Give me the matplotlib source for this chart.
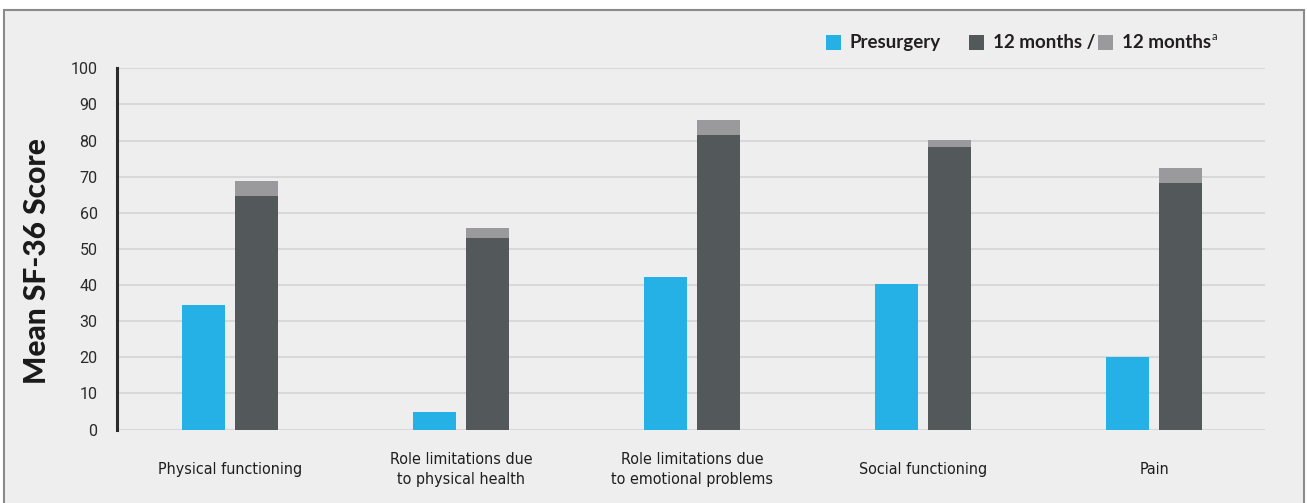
import numpy as np
import matplotlib.pyplot as plt
from matplotlib.patches import Rectangle

categories = ["Physical functioning",
              "Role limitations due\nto physical health",
              "Role limitations due\nto emotional problems",
              "Social functioning",
              "Pain"]
presurgery = [34.5, 4.8, 42.2, 40.2, 20.0]
months12 = [64.7, 53.0, 81.5, 78.2, 68.2]
months12_a = [68.8, 55.8, 85.7, 80.2, 72.4]
yticks = list(range(0, 101, 10))

blue = "#25b0e6"
dark = "#53585b"
light = "#9a999b"
bg = "#eeeeee"

plt.rcParams['font.family'] = ['Roboto', 'DejaVu Sans']

fig = plt.figure(figsize=(13.07, 5.03), dpi=100, facecolor="white")

# panel background with border
fig.patches.append(Rectangle((4/1307, -0.05), 1300/1307, 1.05 - 10/503,
                             transform=fig.transFigure, facecolor=bg,
                             edgecolor="#8a8a8a", lw=1.5, zorder=-10))

ax = fig.add_axes([117/1307, 1 - 429.5/503, (1265-117)/1307, (429.5-68.3)/503])
ax.set_facecolor(bg)

x = np.arange(len(categories))
w = 0.185
off = 0.114
ax.bar(x - off, presurgery, w, color=blue, zorder=3)
ax.bar(x + off, months12_a, w, color=light, zorder=3)
ax.bar(x + off, months12, w, color=dark, zorder=4)

ax.set_xlim(-0.49, 4.48)
ax.set_ylim(0, 100)
ax.set_yticks(yticks)
ax.set_yticklabels([str(v) for v in yticks], fontsize=11.5, color="#2a2a2a")
ax.yaxis.grid(True, color="#d8d8d8", lw=1.5, zorder=0)
ax.set_axisbelow(True)
for s in ["top", "right", "bottom"]:
    ax.spines[s].set_visible(False)
ax.spines["left"].set_color("#2b2b2b")
ax.spines["left"].set_linewidth(2.2)
ax.tick_params(axis="y", length=0, pad=14)
ax.tick_params(axis="x", length=0, pad=29)
ax.set_xticks(x)
ax.set_xticklabels(categories, fontsize=11.5, color="#1e1e1e", linespacing=1.4,
                   family=["DejaVu Sans"], fontstretch="condensed")
for lbl in ax.get_xticklabels():
    lbl.set_va("center")

fig.text(37/1307, 1 - 261/503, "Mean SF-36 Score", rotation=90, ha="center", va="center",
         fontsize=21.5, fontweight="black", family=["Lato", "DejaVu Sans"], color="#1a1a1a")

# legend
def sq(px, color):
    fig.patches.append(Rectangle((px/1307, 1 - 50/503), 15/1307, 15/503,
                                 transform=fig.transFigure, facecolor=color,
                                 edgecolor="none"))

lk = dict(fontsize=13.5, fontweight="bold", color="#231f20", va="center",
          family=["Lato", "DejaVu Sans"])
ly = 1 - 42.5/503
sq(826, blue)
fig.text(850/1307, ly, "Presurgery", **lk)
sq(969, dark)
fig.text(993/1307, ly, "12 months /", **lk)
sq(1098, light)
t = fig.text(1122/1307, ly, "12 months", **lk)
fig.canvas.draw()
bb = t.get_window_extent()
fig.text((bb.x1 + 1)/1307, 1 - 37/503, "a", fontsize=8, color="#231f20", va="center",
         family=["Lato", "DejaVu Sans"])

fig.savefig("out.png", dpi=100, facecolor="white")
